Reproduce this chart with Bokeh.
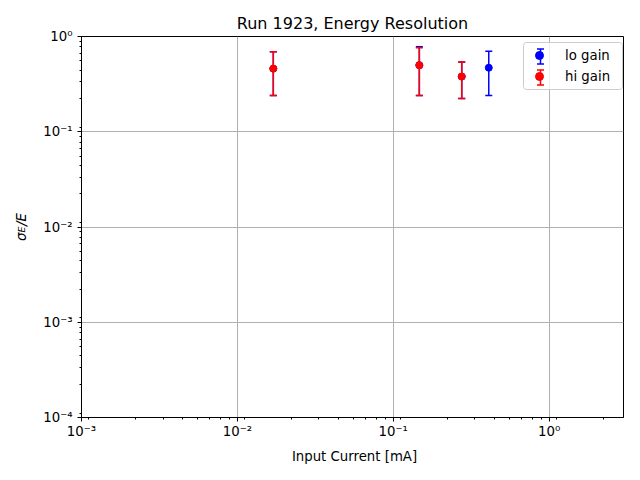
from bokeh.plotting import figure
from bokeh.models import (ColumnDataSource, Label, Legend, LegendItem, LogTicker,
                          CustomJSTickFormatter, Range1d, Whisker, TeeHead, BoxAnnotation)
from bokeh.embed import file_html
from bokeh.resources import INLINE
import math

# ---- data ----
title = "Run 1923, Energy Resolution"
x_label = "Input Current [mA]"

lo_x = [0.017, 0.147, 0.275, 0.41]
lo_y = [0.46, 0.50, 0.38, 0.47]
lo_low = [0.24, 0.24, 0.224, 0.24]
lo_high = [0.69, 0.78, 0.54, 0.70]

hi_x = [0.017, 0.147, 0.275]
hi_y = [0.46, 0.50, 0.38]
hi_low = [0.24, 0.24, 0.224]
hi_high = [0.69, 0.76, 0.54]

series = [("lo gain", "#0000ff", lo_x, lo_y, lo_low, lo_high),
          ("hi gain", "#ff0000", hi_x, hi_y, hi_low, hi_high)]

FONT = "DejaVu Sans"
FS = "13.3px"

p = figure(width=624, height=464, x_axis_type="log", y_axis_type="log",
           x_range=Range1d(1e-3, 3), y_range=Range1d(1e-4, 1),
           output_backend="svg", toolbar_location=None,
           min_border_left=78, min_border_right=1, min_border_top=36,
           min_border_bottom=47, title=title)

p.title.align = "center"
p.title.text_font = FONT
p.title.text_font_size = "16px"
p.title.text_font_style = "normal"
p.title.text_color = "black"
p.title.standoff = 8

p.outline_line_color = "black"
p.outline_line_width = 1
p.background_fill_color = "white"
p.border_fill_color = "white"

fmt = CustomJSTickFormatter(code="""
const sup = {'-':'\u207b','0':'\u2070','1':'\u00b9','2':'\u00b2','3':'\u00b3',
             '4':'\u2074','5':'\u2075','6':'\u2076','7':'\u2077','8':'\u2078','9':'\u2079'};
const e = Math.round(Math.log10(tick));
return '10' + String(e).split('').map(c => sup[c]).join('');
""")

for ax in (p.xaxis, p.yaxis):
    ax.ticker = LogTicker(num_minor_ticks=9)
    ax.formatter = fmt
    ax.major_label_text_font = FONT
    ax.major_label_text_font_size = FS
    ax.major_label_text_color = "black"
    ax.axis_label_text_font = FONT
    ax.axis_label_text_font_size = FS
    ax.axis_label_text_font_style = "normal"
    ax.axis_label_text_color = "black"
    ax.major_tick_in = 0
    ax.major_tick_out = 4
    ax.minor_tick_in = 0
    ax.minor_tick_out = 2
    ax.axis_line_color = "black"
    ax.major_tick_line_color = "black"
    ax.minor_tick_line_color = "black"
    ax.major_label_standoff = 5

p.xaxis.major_label_standoff = 2

# y label: sigma_E / E  (subscript E added as a separate label)
p.yaxis.axis_label = "σ\u2002/E"
p.yaxis.axis_label_text_font_style = "italic"
p.yaxis.axis_label_standoff = 11

for g in (p.xgrid, p.ygrid):
    g.grid_line_color = "#b0b0b0"
    g.grid_line_width = 1

# legend frame (screen units, frame-relative), drawn above the grid
p.add_layout(BoxAnnotation(left=442, right=541, bottom=328, top=375,
                           left_units="screen", right_units="screen",
                           bottom_units="screen", top_units="screen",
                           fill_color="white", fill_alpha=0.8,
                           line_color="#cccccc", line_width=1, line_alpha=1,
                           border_radius=3, level="underlay"))

legend_items = []
for name, color, xs, ys, lows, highs in series:
    src = ColumnDataSource(dict(x=xs, y=ys, low=lows, high=highs))
    p.segment(x0="x", y0="low", x1="x", y1="high", source=src,
              line_color=color, line_width=1.5)
    p.scatter(x="x", y="low", source=src, marker="dash", size=7,
              line_color=color, line_width=1.5)
    p.scatter(x="x", y="high", source=src, marker="dash", size=7,
              line_color=color, line_width=1.5)
    pts = p.scatter(x="x", y="y", source=src, marker="circle", size=7,
                    fill_color=color, line_color=color)
    legend_items.append(LegendItem(label=name, renderers=[pts]))

# legend entries: frame-relative screen position (bottom-left corner)
LEG_X, LEG_Y = 438, 327
legend = Legend(items=legend_items, location=(LEG_X, LEG_Y))
legend.label_text_font = FONT
legend.label_text_font_size = FS
legend.label_text_color = "black"
legend.border_line_alpha = 0
legend.background_fill_alpha = 0
legend.padding = 4
legend.spacing = 1
legend.margin = 0
legend.label_height = 20
legend.glyph_height = 20
legend.glyph_width = 32
legend.label_standoff = 10
p.add_layout(legend)

# error-bar symbols inside the legend (screen units, frame-relative)
for i, (name, color, *_rest) in enumerate(series):
    cy = 361 - i * 21
    wsrc = ColumnDataSource(dict(b=[459], lo=[cy - 7.5], up=[cy + 7.5]))
    p.add_layout(Whisker(source=wsrc, base="b", lower="lo", upper="up",
                         base_units="screen", lower_units="screen", upper_units="screen",
                         dimension="height", line_color=color, line_width=1.5,
                         level="overlay",
                         lower_head=TeeHead(size=7, line_color=color, line_width=1.5),
                         upper_head=TeeHead(size=7, line_color=color, line_width=1.5)))

# x axis label, placed in the bottom border panel
p.add_layout(Label(x=273, y=0, x_units="screen", y_units="screen",
                   text=x_label, text_font=FONT, text_font_size=FS,
                   text_color="black", text_align="center", text_baseline="middle"),
             "below")

# subscript E of the y label, placed in the left border panel
p.add_layout(Label(x=21, y=185, x_units="screen", y_units="screen",
                   text="E", angle=math.pi / 2, text_font=FONT,
                   text_font_size="9.5px", text_font_style="italic",
                   text_color="black", text_align="left", text_baseline="middle"),
             "left")

open("out.html", "w").write(file_html(p, INLINE))
